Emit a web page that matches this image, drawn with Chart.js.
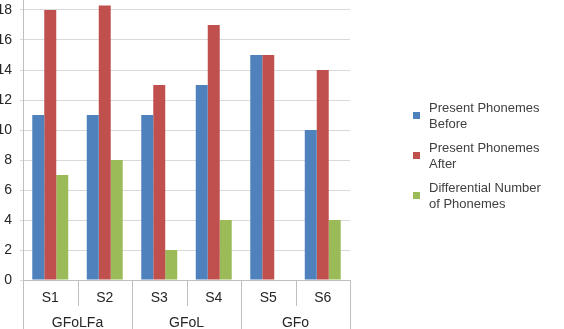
<!DOCTYPE html>
<html>
<head>
<meta charset="utf-8">
<script src="https://cdn.jsdelivr.net/npm/chart.js@4.4.1/dist/chart.umd.min.js"></script>
<style>
  html, body { margin: 0; padding: 0; background: #fff; overflow: hidden; }
  body { width: 564px; height: 329px; position: relative; }
  #wrap { position: absolute; left: -7px; top: -40px; }
  #legend { position: absolute; left: 413px; top: 100px; font-family: "Liberation Sans", Arial, sans-serif;
            font-size: 13px; line-height: 16px; color: #404040; }
  .item { position: relative; padding-left: 16px; width: 124px; margin-bottom: 8px; }
  .box { position: absolute; left: 0; top: 12px; width: 7px; height: 7px; }
</style>
</head>
<body>
<div id="wrap"><canvas id="miGrafica" width="571" height="372"></canvas></div>
<div id="legend"></div>
<script>
// datos
var sujetos = ["S1", "S2", "S3", "S4", "S5", "S6"]
var grupos = ["GFoLFa", "GFoL", "GFo"]
var antes = [11, 11, 11, 13, 15, 10]
var despues = [18, 18.3, 13, 17, 15, 14]
var diferencia = [7, 8, 2, 4, 0, 4]
var series = ["Present Phonemes Before", "Present Phonemes After", "Differential Number of Phonemes"]
var yTicks = [0, 2, 4, 6, 8, 10, 12, 14, 16, 18, 20]

var colores = ["#4F81BD", "#C0504D", "#9BBB59"]  //colores tipo office
var fuente = { family: "'Liberation Sans', Arial, sans-serif", size: 14 }
var gris = "#bfbfbf"

// lineas separadoras del eje x (sujetos y grupos)
var separadores = {
  id: "separadores",
  afterDraw: function (chart) {
    var ctx = chart.ctx
    var x = chart.scales.x
    var x2 = chart.scales.x2
    ctx.save()
    ctx.strokeStyle = gris
    ctx.lineWidth = 1
    ctx.beginPath()
    for (var i = 0; i <= sujetos.length; i++) {
      var px = Math.round(x.getPixelForValue(i - 0.5)) + 0.5
      ctx.moveTo(px, x.top)
      ctx.lineTo(px, x.bottom)
    }
    for (var j = 0; j <= grupos.length; j++) {
      var pg = Math.round(x2.getPixelForValue(j - 0.5)) + 0.5
      ctx.moveTo(pg, x.top)
      ctx.lineTo(pg, x2.bottom)
    }
    ctx.stroke()
    ctx.restore()
  }
}

var grafica = new Chart("miGrafica", {
  type: "bar",
  data: {
    labels: sujetos,
    datasets: [
      { label: series[0], data: antes, backgroundColor: colores[0] },
      { label: series[1], data: despues, backgroundColor: colores[1] },
      { label: series[2], data: diferencia, backgroundColor: colores[2] }
    ]
  },
  options: {
    responsive: false,
    animation: false,
    datasets: { bar: { categoryPercentage: 0.66, barPercentage: 1 } },
    layout: { padding: { top: 20, right: 214, bottom: 0, left: 0 } },
    plugins: { legend: { display: false }, tooltip: { enabled: false } },
    scales: {
      y: {
        min: 0, max: 20,
        afterBuildTicks: function (scale) { scale.ticks = yTicks.map(function (v) { return { value: v } }) },
        afterFit: function (scale) { scale.width = 30 },
        grid: { color: "#d9d9d9", tickLength: 3 },
        border: { color: gris },
        ticks: { color: "#262626", font: fuente, padding: 8 }
      },
      x: {
        weight: 1,
        afterFit: function (scale) { scale.height = 26 },
        grid: { display: false, drawTicks: false },
        border: { color: gris },
        ticks: { color: "#262626", font: fuente, padding: 10 }
      },
      x2: {
        type: "category",
        position: "bottom",
        weight: 2,
        labels: grupos,
        offset: true,
        afterFit: function (scale) { scale.height = 26 },
        grid: { display: false, drawTicks: false },
        border: { display: false },
        ticks: { color: "#262626", font: fuente, padding: 9 }
      }
    }
  },
  plugins: [separadores]
});

// leyenda en html con el texto partido en dos lineas
grafica.data.datasets.forEach(function (ds) {
  var item = document.createElement("div")
  item.className = "item"
  var caja = document.createElement("span")
  caja.className = "box"
  caja.style.background = ds.backgroundColor
  item.appendChild(caja)
  item.appendChild(document.createTextNode(ds.label))
  document.getElementById("legend").appendChild(item)
});
</script>
</body>
</html>
